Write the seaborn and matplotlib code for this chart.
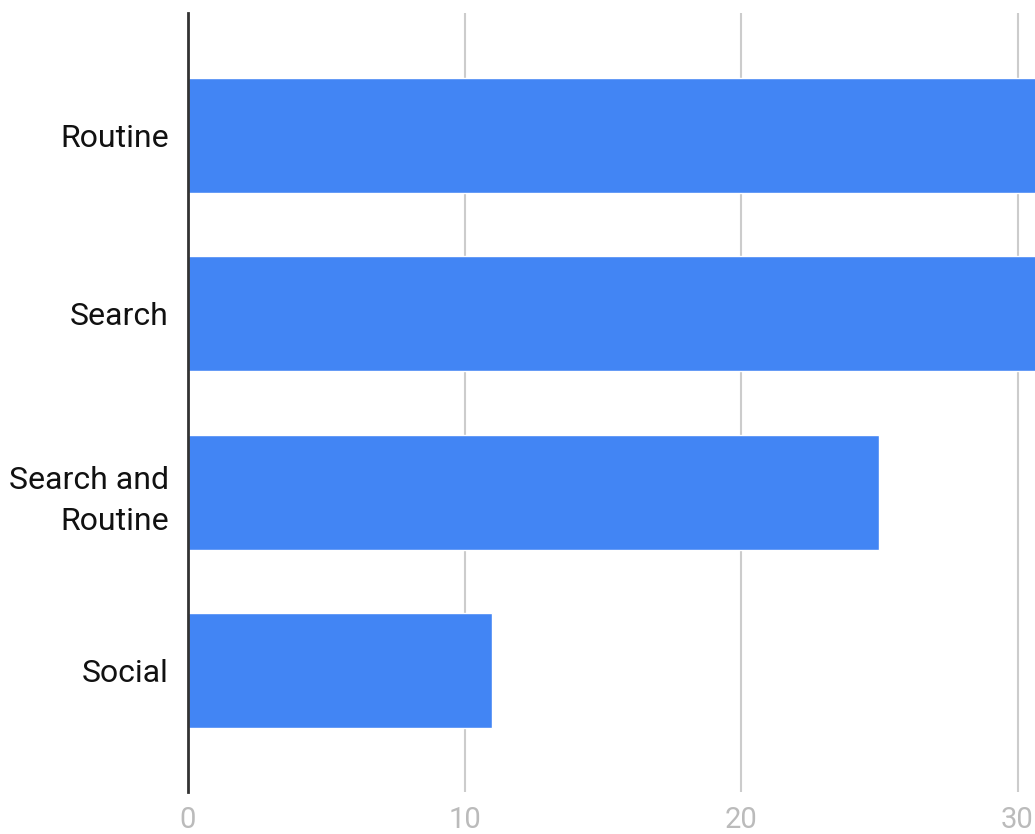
import matplotlib.pyplot as plt
import pandas as pd
import seaborn as sns

# values (first two bars run past the right edge)
categories = ["Routine", "Search", "Search and\nRoutine", "Social"]
counts = [38, 36, 25, 11]
x_ticks = [0, 10, 20, 30]

BAR_COLOR = "#4285F4"

sns.set_theme(style="white")
plt.rcParams["font.family"] = ["Roboto", "DejaVu Sans"]

df = pd.DataFrame({"category": categories, "count": counts})

fig = plt.figure(figsize=(10.35, 8.34), dpi=100)
ax = fig.add_axes([188 / 1035, 42 / 834, (1035 - 188) / 1035, (792 - 13) / 834])

sns.barplot(
    data=df,
    x="count",
    y="category",
    orient="h",
    color=BAR_COLOR,
    saturation=1,
    width=0.645,
    ax=ax,
)

ax.set_xlim(0, (1035 - 188) / 27.65)
ax.set_ylim(3.68, -0.686)
ax.set_xticks(x_ticks)
ax.set_xticklabels([str(t) for t in x_ticks])
ax.grid(axis="x", color="#cccccc", linewidth=1.5)
ax.set_axisbelow(True)

for side in ["top", "right", "bottom"]:
    ax.spines[side].set_visible(False)
ax.spines["left"].set_color("#333333")
ax.spines["left"].set_linewidth(2)
ax.spines["left"].set_zorder(5)

ax.tick_params(axis="x", length=0, pad=10, labelsize=21, labelcolor="#bbbbbb")
ax.tick_params(axis="y", length=0, pad=14, labelsize=23, labelcolor="#111111")
for lbl in ax.get_yticklabels():
    lbl.set_multialignment("right")
    lbl.set_linespacing(1.5)

ax.set_xlabel("")
ax.set_ylabel("")

fig.savefig("out.png", dpi=100)
